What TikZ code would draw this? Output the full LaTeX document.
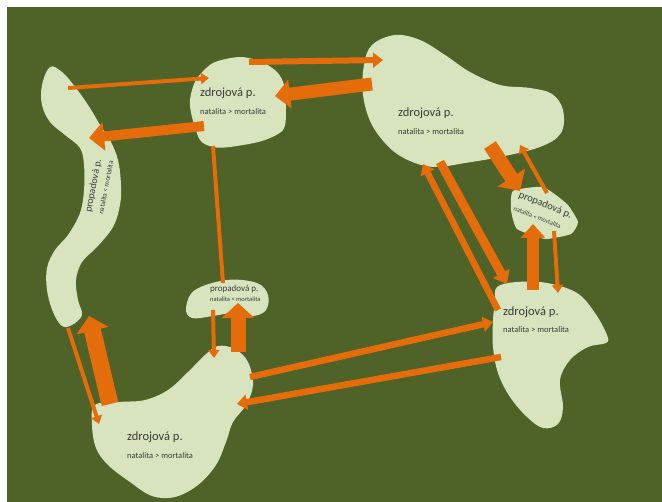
\documentclass[tikz,border=0pt]{standalone}
\usepackage{fontspec}
\setmainfont{Carlito}
\usepackage{xcolor}
\usepackage{tikz}
\usetikzlibrary{arrows.meta}
\definecolor{field}{HTML}{4F6228}
\definecolor{patchc}{HTML}{D7E4BD}
\definecolor{flowc}{HTML}{E46C0A}
\definecolor{txt}{HTML}{3A3A3A}
\tikzstyle{habitat}  = [fill=patchc]
\tikzstyle{flowthin} = [draw=flowc, line width=4pt, -{Triangle[length=8pt,width=11pt]}]
\tikzstyle{flowmid}  = [draw=flowc, line width=6.5pt, -{Triangle[length=10pt,width=15pt]}]
\tikzstyle{flowwide} = [draw=flowc, line width=13pt, -{Triangle[length=15pt,width=28pt]}]
\tikzstyle{poptitle} = [anchor=base west, inner sep=0pt, text=txt, font=\fontsize{12.5}{14}\selectfont]
\tikzstyle{popratio} = [anchor=base west, inner sep=0pt, text=txt, font=\fontsize{8.5}{10}\selectfont]

\begin{document}
\begin{tikzpicture}[x=1pt, y=-1pt]
    \useasboundingbox (0,0) rectangle (662,502);
    \fill[white] (0,0) rectangle (662,502);
    \fill[field] (7,7) rectangle (662,502);

    % patches of habitat
    \fill[habitat] plot[smooth cycle, tension=0.6] coordinates {(50,67) (62,72) (76,88) (90,108) (100,125) (110,140) (118,160) (121,185) (120,205) (113,227) (97,247) (82,262) (76,280) (78,300) (82,315) (72,325) (62,326) (53,312) (47,290) (47,268) (55,250) (68,235) (80,213) (84,190) (84,165) (80,148) (65,135) (50,122) (42,105) (42,85)};
    \fill[habitat] plot[smooth cycle, tension=0.5] coordinates {(213,63) (240,57) (262,62) (277,72) (284,85) (286,110) (283,130) (262,141) (230,147) (213,147) (200,140) (192,117) (190,100) (196,80)};
    \fill[habitat] plot[smooth cycle, tension=0.6] coordinates {(372,45) (395,35) (420,40) (445,55) (470,72) (500,85) (530,88) (552,94) (563,110) (561,133) (540,147) (500,157) (465,163) (437,167) (415,163) (392,150) (372,125) (363,95) (364,65)};
    \fill[habitat] plot[smooth cycle, tension=0.3] coordinates {(513,191) (543,187) (567,204) (578,222) (571,234) (545,239) (517,229) (511,210)};
    \fill[habitat] plot[smooth cycle, tension=0.6] coordinates {(186,308) (195,290) (227,280) (257,283) (268,295) (266,310) (253,316) (233,313) (213,316) (192,318)};
    \fill[habitat] plot[smooth cycle, tension=0.6] coordinates {(95,405) (120,402) (145,400) (168,390) (188,372) (205,355) (218,346) (235,349) (248,362) (253,385) (246,405) (233,422) (226,442) (216,465) (198,485) (175,497) (152,496) (130,482) (108,465) (96,448) (92,425)};
    \fill[habitat] plot[smooth cycle, tension=0.6] coordinates {(497,287) (517,282) (547,283) (577,293) (595,313) (607,335) (606,343) (588,347) (570,360) (560,380) (563,407) (558,424) (543,428) (527,417) (510,397) (498,373) (493,347) (493,320) (495,302)};

    % labels
    \node (lp)   at (91,213)  [poptitle, rotate=79, font=\fontsize{10}{12}\selectfont] {propadová p.};
    \node (lp-r) at (103,215) [popratio, rotate=79, font=\fontsize{7}{8}\selectfont] {natalita < mortalita};
    \node (tm)   at (200,97)  [poptitle] {zdrojová p.};
    \node (tm-r) at (200,115) [popratio] {natalita > mortalita};
    \node (tr)   at (398,117) [poptitle] {zdrojová p.};
    \node (tr-r) at (398,135) [popratio] {natalita > mortalita};
    \node (rp)   at (518,197) [poptitle, rotate=-22, font=\fontsize{10.5}{12}\selectfont] {propadová p.};
    \node (rp-r) at (513,210) [popratio, rotate=-22, font=\fontsize{6.5}{8}\selectfont] {natalita < mortalita};
    \node (mp)   at (210,292) [poptitle, font=\fontsize{9}{11}\selectfont] {propadová p.};
    \node (mp-r) at (210,302) [popratio, font=\fontsize{6.5}{8}\selectfont] {natalita < mortalita};
    \node (bl)   at (127,441) [poptitle] {zdrojová p.};
    \node (bl-r) at (127,459) [popratio] {natalita > mortalita};
    \node (br)   at (503,316) [poptitle] {zdrojová p.};
    \node (br-r) at (503,333) [popratio] {natalita > mortalita};

    % arrow ends on the patches
    \coordinate (lp-a) at (68,88);   \coordinate (tm-a) at (209,78);
    \coordinate (tm-b) at (204,126); \coordinate (lp-b) at (89,138);
    \coordinate (tm-c) at (249,62);  \coordinate (tr-c) at (383,60);
    \coordinate (tr-d) at (372,84);  \coordinate (tm-d) at (275,96);
    \coordinate (tm-e) at (213,146); \coordinate (mp-e) at (223,283);
    \coordinate (mp-f) at (213,310); \coordinate (bl-f) at (214,358);
    \coordinate (bl-g) at (238,352); \coordinate (mp-g) at (238,303);
    \coordinate (lp-h) at (68,328);  \coordinate (bl-h) at (99,424);
    \coordinate (bl-i) at (110,404); \coordinate (lp-i) at (89,316);
    \coordinate (bl-j) at (250,377); \coordinate (br-j) at (493,322);
    \coordinate (br-k) at (501,357); \coordinate (bl-k) at (237,404);
    \coordinate (br-l) at (498,310); \coordinate (tr-l) at (423,164);
    \coordinate (tr-m) at (440,162); \coordinate (br-m) at (507,284);
    \coordinate (tr-n) at (490,145); \coordinate (rp-n) at (520,191);
    \coordinate (rp-o) at (547,193); \coordinate (tr-o) at (520,145);
    \coordinate (br-p) at (533,290); \coordinate (rp-p) at (533,224);
    \coordinate (rp-q) at (554,231); \coordinate (br-q) at (558,293);

    % left strip <-> top patch
    \draw [flowthin] (lp-a) -- (tm-a);
    \draw [flowwide, line width=10pt] (tm-b) -- (lp-b);
    % top patch <-> big patch
    \draw [flowmid, line width=6pt] (tm-c) -- (tr-c);
    \draw [flowwide] (tr-d) -- (tm-d);
    % top patch down to the middle one, then middle <-> bottom left
    \draw [flowthin, -] (tm-e) -- (mp-e);
    \draw [flowthin] (mp-f) -- (bl-f);
    \draw [flowwide, line width=15pt, -{Triangle[length=15pt,width=32pt]}] (bl-g) -- (mp-g);
    % left strip <-> bottom left
    \draw [flowthin] (lp-h) -- (bl-h);
    \draw [flowwide, line width=17pt, -{Triangle[length=15pt,width=32pt]}] (bl-i) -- (lp-i);
    % bottom left <-> bottom right
    \draw [flowmid] (bl-j) -- (br-j);
    \draw [flowmid] (br-k) -- (bl-k);
    % big patch <-> bottom right
    \draw [flowmid] (br-l) -- (tr-l);
    \draw [flowmid, line width=9pt, -{Triangle[length=12pt,width=18pt]}] (tr-m) -- (br-m);
    % small right patch
    \draw [flowwide, line width=14pt, -{Triangle[length=16pt,width=32pt]}] (tr-n) -- (rp-n);
    \draw [flowthin] (rp-o) -- (tr-o);
    \draw [flowwide, line width=12pt, -{Triangle[length=14pt,width=24pt]}] (br-p) -- (rp-p);
    \draw [flowthin] (rp-q) -- (br-q);
\end{tikzpicture}
\end{document}
